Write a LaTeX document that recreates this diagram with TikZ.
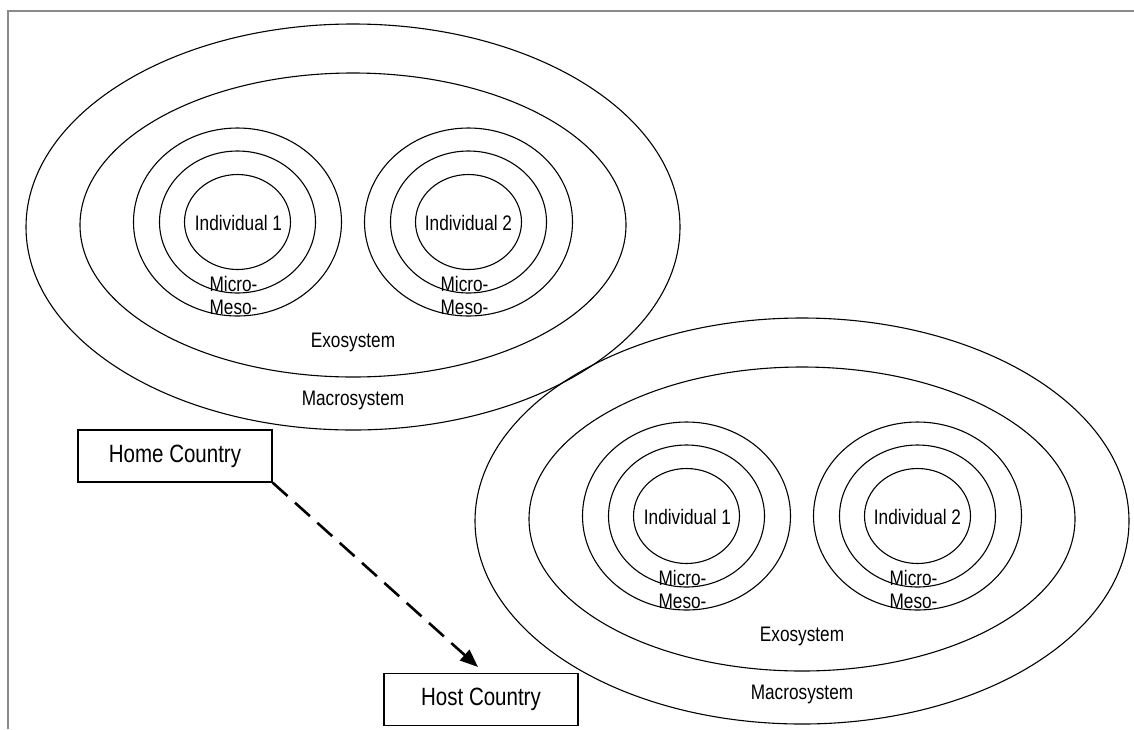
\documentclass[tikz,border=0pt]{standalone}
\usepackage{fontspec}
\setmainfont{Liberation Sans}[FakeStretch=0.82]
\usetikzlibrary{shapes.geometric,arrows.meta}
\definecolor{framegray}{HTML}{8A8A8A}
\tikzset{
  sys/.style={draw, ellipse, line width=1.1pt, inner sep=0pt, outer sep=0pt},
  lab/.style={font=\fontsize{21}{24}\selectfont, inner sep=0pt},
  countrybox/.style={draw, line width=1.4pt, minimum width=194pt, minimum height=52pt,
    inner sep=0pt, font=\fontsize{25}{28}\selectfont},
  migrate/.style={line width=2.6pt, dash pattern=on 20pt off 10pt,
    -{Triangle[length=18pt,width=14pt]}},
  ecogroup/.pic={
    \node[sys, minimum width=654pt, minimum height=406pt] (-macro) at (0,0) {};
    \node[sys, minimum width=546pt, minimum height=304pt] (-exo) at (0,-2) {};
    % individual 1
    \node[sys, minimum width=208pt, minimum height=188pt] (-outA) at (-115.5,-5) {};
    \node[sys, minimum width=156pt, minimum height=142pt] (-midA) at (-115.5,-5) {};
    \node[sys, minimum width=106pt, minimum height=95pt] (-inA) at (-115.5,-5) {};
    \node[lab] (-indA) at (-114.5,-4) {Individual 1};
    \node[lab, anchor=base] (-microA) at (-119.5,64) {Micro-};
    \node[lab, anchor=base] (-mesoA) at (-119.5,87) {Meso-};
    % individual 2
    \node[sys, minimum width=208pt, minimum height=188pt] (-outB) at (115.5,-5) {};
    \node[sys, minimum width=156pt, minimum height=142pt] (-midB) at (115.5,-5) {};
    \node[sys, minimum width=106pt, minimum height=95pt] (-inB) at (115.5,-5) {};
    \node[lab] (-indB) at (115.5,-4) {Individual 2};
    \node[lab, anchor=base] (-microB) at (111.5,64) {Micro-};
    \node[lab, anchor=base] (-mesoB) at (111.5,87) {Meso-};
    % system labels
    \node[lab, anchor=base] (-exolab) at (0,120) {Exosystem};
    \node[lab, anchor=base] (-macrolab) at (0,178) {Macrosystem};
  }
}
\begin{document}
\begin{tikzpicture}[x=1pt,y=-1pt]
\useasboundingbox (0,0) rectangle (1134,729);
\draw[line width=2.5pt, color=framegray] (8,729) -- (8,11) -- (1134,11);

\pic (L) at (353,227) {ecogroup};
\pic (R) at (802,521) {ecogroup};

\node[countrybox] (home) at (175,456) {Home Country};
\node[countrybox] (host) at (481,699.5) {Host Country};
\coordinate (tip) at (478,667);
\draw[migrate] (home.south east) -- (tip);
\end{tikzpicture}
\end{document}
